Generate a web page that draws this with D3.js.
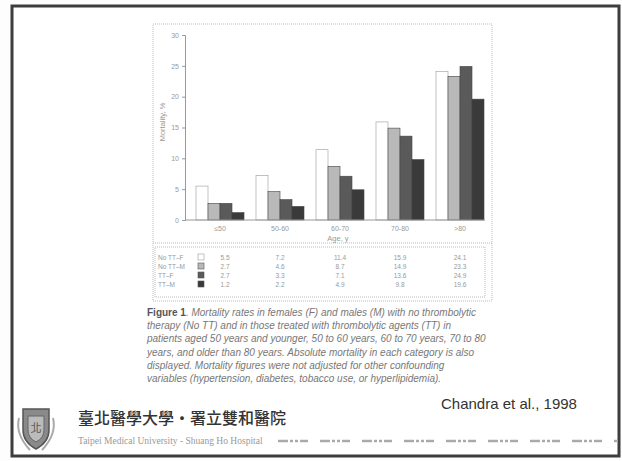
<!DOCTYPE html>
<html><head><meta charset="utf-8">
<script src="https://cdn.jsdelivr.net/npm/d3@7"></script>
<style>body{margin:0;background:#fff}svg{display:block}</style>
</head><body>
<script>
const categories = ["≤50", "50-60", "60-70", "70-80", ">80"];
const seriesNames = ["No TT-F", "No TT-M", "TT-F", "TT-M"];
const noTTF = [5.5, 7.2, 11.4, 15.9, 24.1];
const noTTM = [2.7, 4.6, 8.7, 14.9, 23.3];
const ttF = [2.7, 3.3, 7.1, 13.6, 24.9];
const ttM = [1.2, 2.2, 4.9, 9.8, 19.6];
const yTicks = [0, 5, 10, 15, 20, 25, 30];
const seriesValues = [noTTF, noTTM, ttF, ttM];
const colors = ["#ffffff", "#b9b9b9", "#5a5a5a", "#3a3a3a"];

const W = 622, H = 461;
const svg = d3.select("body").append("svg").attr("width", W).attr("height", H);
svg.append("rect").attr("width", W).attr("height", H).attr("fill", "#fdfdfd");
// slide border
svg.append("rect").attr("x", 12).attr("y", 6).attr("width", 607).attr("height", 450)
  .attr("fill", "#fff").attr("stroke", "#3d3d3d").attr("stroke-width", 3);

// figure frames
svg.append("rect").attr("x", 153).attr("y", 24).attr("width", 339).attr("height", 277)
  .attr("fill", "none").attr("stroke", "#bbb").attr("stroke-width", 1).attr("stroke-dasharray", "1,1");
svg.append("line").attr("x1", 153).attr("x2", 492).attr("y1", 243).attr("y2", 243)
  .attr("stroke", "#bbb").attr("stroke-dasharray", "1,1");
svg.append("rect").attr("x", 155).attr("y", 247).attr("width", 330).attr("height", 50)
  .attr("fill", "none").attr("stroke", "#bbb").attr("stroke-dasharray", "1,1");

const x = d3.scaleBand().domain(categories).range([190, 490]).paddingInner(0.2).paddingOuter(0.1);
const xs = d3.scaleBand().domain(seriesNames).range([0, x.bandwidth()]);
const y = d3.scaleLinear().domain([0, 30]).range([220, 35]);

const font = "Liberation Sans, Arial, sans-serif";
const txtCol = "#999";

// y axis
const yAxis = svg.append("g").attr("transform", "translate(185,0)")
  .call(d3.axisLeft(y).tickValues(yTicks).tickSize(3).tickPadding(3));
yAxis.select(".domain").attr("stroke", "#999");
yAxis.selectAll(".tick line").attr("stroke", "#999");
yAxis.selectAll(".tick text").attr("fill", txtCol).attr("font-size", 7).attr("font-family", font);

// bars
seriesValues.forEach((vals, si) => {
  svg.append("g").selectAll("rect").data(vals).join("rect")
    .attr("x", (d, i) => x(categories[i]) + xs(seriesNames[si]))
    .attr("y", d => y(d))
    .attr("width", xs.bandwidth())
    .attr("height", d => y(0) - y(d))
    .attr("fill", colors[si])
    .attr("stroke", si === 0 ? "#999" : "#444")
    .attr("stroke-width", 0.6);
});

// x axis
const xAxis = svg.append("g").attr("transform", "translate(0,220)")
  .call(d3.axisBottom(x).tickSize(0).tickPadding(6).tickSizeOuter(0));
xAxis.select(".domain").attr("stroke", "#999").attr("d", "M185,0H485");
xAxis.selectAll(".tick text").attr("fill", txtCol).attr("font-size", 7).attr("font-family", font);

svg.append("text").attr("x", 338).attr("y", 241).attr("text-anchor", "middle")
  .attr("font-size", 7.5).attr("font-family", font).attr("fill", txtCol).text("Age, y");
svg.append("text").attr("transform", "translate(165,122) rotate(-90)").attr("text-anchor", "middle")
  .attr("font-size", 7.5).attr("font-family", font).attr("fill", txtCol).text("Mortality, %");

// data table
const rowY = [257, 266, 275, 284];
seriesNames.forEach((name, si) => {
  const g = svg.append("g");
  g.append("text").attr("x", 158).attr("y", rowY[si] + 2.5).attr("font-size", 6.5)
    .attr("font-family", font).attr("fill", txtCol).text(name.replace("-", "–"));
  g.append("rect").attr("x", 198).attr("y", rowY[si] - 3).attr("width", 6).attr("height", 6)
    .attr("fill", colors[si]).attr("stroke", si === 0 ? "#999" : "#555").attr("stroke-width", 0.6);
  g.selectAll("text.v").data(seriesValues[si]).join("text").attr("class", "v")
    .attr("x", (d, i) => x(categories[i]) + x.bandwidth() / 2 + (i === 0 ? 5 : 0))
    .attr("y", rowY[si] + 2.5).attr("text-anchor", "middle").attr("font-size", 6.5)
    .attr("font-family", font).attr("fill", txtCol).text(d => d.toFixed(1));
});

// caption
const capLines = [
  [["Figure 1", "bold", "normal"], [". Mortality rates in females (F) and males (M) with no thrombolytic", "normal", "italic"]],
  [["therapy (No TT) and in those treated with thrombolytic agents (TT) in", "normal", "italic"]],
  [["patients aged 50 years and younger, 50 to 60 years, 60 to 70 years, 70 to 80", "normal", "italic"]],
  [["years, and older than 80 years. Absolute mortality in each category is also", "normal", "italic"]],
  [["displayed. Mortality figures were not adjusted for other confounding", "normal", "italic"]],
  [["variables (hypertension, diabetes, tobacco use, or hyperlipidemia).", "normal", "italic"]]
];
capLines.forEach((parts, li) => {
  const t = svg.append("text").attr("x", 147).attr("y", 316 + li * 13.2)
    .attr("font-size", 10).attr("font-family", font).attr("fill", "#666");
  parts.forEach(p => {
    t.append("tspan").attr("font-weight", p[1]).attr("font-style", p[2])
      .attr("fill", p[1] === "bold" ? "#555" : "#777").text(p[0]);
  });
});

// citation
svg.append("text").attr("x", 441).attr("y", 409).attr("font-size", 15).attr("font-family", font)
  .attr("fill", "#333").text("Chandra et al., 1998");

// logo (shield)
const logo = svg.append("g").attr("transform", "translate(36,428)");
logo.append("path").attr("d", "M-13,-19 L13,-19 L13,2 Q13,14 0,21 Q-13,14 -13,2 Z")
  .attr("fill", "#8a8a8a").attr("stroke", "#555").attr("stroke-width", 1.5);
logo.append("path").attr("d", "M-8,-12 L8,-12 L8,2 Q8,10 0,14 Q-8,10 -8,2 Z")
  .attr("fill", "#bbb").attr("stroke", "#666").attr("stroke-width", 1);
logo.append("path").attr("d", "M-17,-10 Q-21,6 -6,22 M17,-10 Q21,6 6,22")
  .attr("fill", "none").attr("stroke", "#aaa").attr("stroke-width", 2);
logo.append("text").attr("y", 4).attr("text-anchor", "middle").attr("font-size", 11)
  .attr("font-family", "Noto Sans CJK TC").attr("fill", "#555").text("北");

svg.append("text").attr("x", 78).attr("y", 424).attr("font-size", 16)
  .attr("font-family", "Noto Sans CJK TC").attr("font-weight", "500").attr("fill", "#333")
  .text("臺北醫學大學・署立雙和醫院");
svg.append("text").attr("x", 78).attr("y", 444).attr("font-size", 9.5)
  .attr("font-family", "Liberation Serif, serif").attr("fill", "#999")
  .text("Taipei Medical University - Shuang Ho Hospital");
svg.append("line").attr("x1", 278).attr("x2", 618).attr("y1", 441).attr("y2", 441)
  .attr("stroke", "#aaa").attr("stroke-width", 2.5)
  .attr("stroke-dasharray", "10,2,3,2,3,2,8,12");
</script>
</body></html>
